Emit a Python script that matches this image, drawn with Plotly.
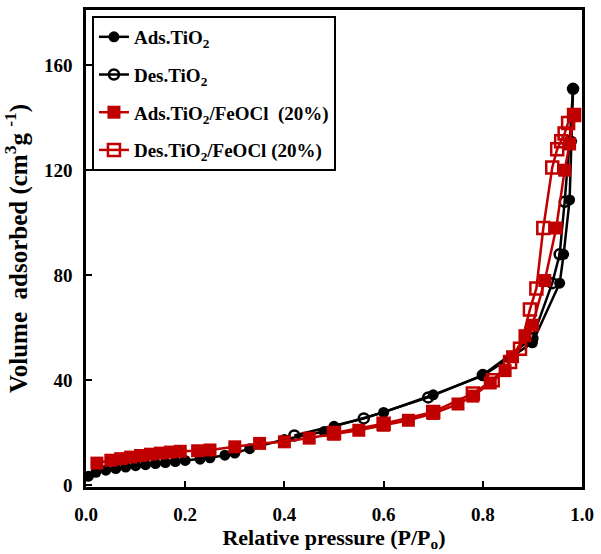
import plotly.graph_objects as go

# N2 adsorption / desorption isotherms
p_ads_tio2 = [0.005, 0.02, 0.04, 0.06, 0.08, 0.10, 0.12, 0.14, 0.16, 0.18, 0.20, 0.23, 0.25,
              0.28, 0.30, 0.33, 0.40, 0.48, 0.50, 0.60, 0.70, 0.80, 0.90, 0.955, 0.963,
              0.975, 0.979, 0.982]
v_ads_tio2 = [3.5, 5.0, 5.8, 6.4, 7.0, 7.5, 7.9, 8.3, 8.7, 9.1, 9.5, 10.0, 10.5,
              11.5, 12.3, 14.0, 17.5, 20.5, 22.5, 27.8, 34.5, 41.8, 54.3, 77.0, 88.0,
              108.7, 131.0, 151.0]

p_des_tio2 = [0.982, 0.975, 0.965, 0.955, 0.94, 0.90, 0.80, 0.69, 0.56, 0.42]
v_des_tio2 = [151.0, 131.0, 108.0, 88.0, 77.0, 56.0, 42.0, 33.5, 25.5, 19.0]

p_ads_fe = [0.022, 0.05, 0.07, 0.09, 0.11, 0.13, 0.15, 0.17, 0.19, 0.225, 0.25, 0.30, 0.35,
            0.40, 0.45, 0.50, 0.55, 0.60, 0.65, 0.70, 0.75, 0.78, 0.815, 0.845, 0.86,
            0.885, 0.90, 0.925, 0.948, 0.965, 0.975, 0.984]
v_ads_fe = [8.5, 9.6, 10.2, 10.8, 11.4, 11.9, 12.3, 12.7, 13.0, 13.2, 13.5, 14.7, 16.0,
            16.6, 18.0, 19.5, 21.0, 22.9, 24.8, 27.4, 31.0, 34.0, 39.0, 43.7, 49.0,
            57.0, 61.0, 78.0, 98.0, 120.0, 130.0, 141.0]

p_des_fe = [0.984, 0.972, 0.965, 0.958, 0.95, 0.94, 0.922, 0.908, 0.895, 0.875, 0.855,
            0.82, 0.78, 0.70, 0.60, 0.50]
v_des_fe = [141.0, 138.0, 134.0, 131.0, 128.0, 121.0, 98.0, 75.0, 67.0, 52.0, 47.0,
            40.0, 35.0, 28.0, 23.5, 20.0]

x_ticks = [0.0, 0.2, 0.4, 0.6, 0.8, 1.0]
x_tick_text = ["0.0", "0.2", "0.4", "0.6", "0.8", "1.0"]
y_ticks = [0, 40, 80, 120, 160]

RED = "#C00000"
BLACK = "#000000"
SERIF = "Liberation Serif"

fig = go.Figure()

fig.add_trace(go.Scatter(
    x=p_ads_tio2, y=v_ads_tio2, mode="lines+markers", name="Ads.TiO<sub>2</sub>",
    legendgroup="a",
    line=dict(color=BLACK, width=2.5),
    marker=dict(symbol="circle", size=11, color=BLACK)))

fig.add_trace(go.Scatter(
    x=p_des_tio2, y=v_des_tio2, mode="lines+markers", name="Des.TiO<sub>2</sub>",
    legendgroup="b",
    line=dict(color=BLACK, width=2.5),
    marker=dict(symbol="circle-open", size=10, color=BLACK, line=dict(width=2.5))))

fig.add_trace(go.Scatter(
    x=p_ads_fe, y=v_ads_fe, mode="lines+markers", name="Ads.TiO<sub>2</sub>/FeOCl  (20%)",
    legendgroup="c",
    line=dict(color=RED, width=2.5),
    marker=dict(symbol="square", size=13, color=RED)))

fig.add_trace(go.Scatter(
    x=p_des_fe, y=v_des_fe, mode="lines+markers", name="Des.TiO<sub>2</sub>/FeOCl (20%)",
    legendgroup="d",
    line=dict(color=RED, width=2.5),
    marker=dict(symbol="square-open", size=12, color=RED, line=dict(width=2.5))))

axis_common = dict(
    showline=True, linecolor=BLACK, linewidth=2.5, mirror=True,
    ticks="inside", ticklen=6, tickwidth=2, tickcolor=BLACK,
    showgrid=False, zeroline=False,
    tickfont=dict(family=SERIF, size=19, color=BLACK, weight="bold"),
)

fig.update_xaxes(
    range=[0, 1.0], tickvals=x_ticks, ticktext=x_tick_text,
    ticklabelstandoff=8,
    title=dict(text="Relative pressure (P/P<sub>o</sub>)", standoff=5,
               font=dict(family=SERIF, size=22, color=BLACK, weight="bold")),
    **axis_common)

fig.update_yaxes(
    range=[-0.6, 181], tickvals=y_ticks,
    ticklabelstandoff=7,
    title=dict(text="Volume  adsorbed (cm<sup>3</sup>g <sup>-1</sup>)", standoff=10,
               font=dict(family=SERIF, size=25, color=BLACK, weight="bold")),
    **axis_common)

fig.update_layout(
    width=601, height=554,
    margin=dict(l=86, r=13, t=7, b=67),
    plot_bgcolor="white", paper_bgcolor="white",
    font=dict(family=SERIF, color=BLACK),
    legend=dict(
        x=0.012, y=0.9875, xanchor="left", yanchor="top",
        bgcolor="white", bordercolor=BLACK, borderwidth=2,
        traceorder="grouped", tracegroupgap=10,
        font=dict(family=SERIF, size=19, color=BLACK, weight="bold"),
        itemwidth=30,
    ),
)

fig.write_html("out.html")
